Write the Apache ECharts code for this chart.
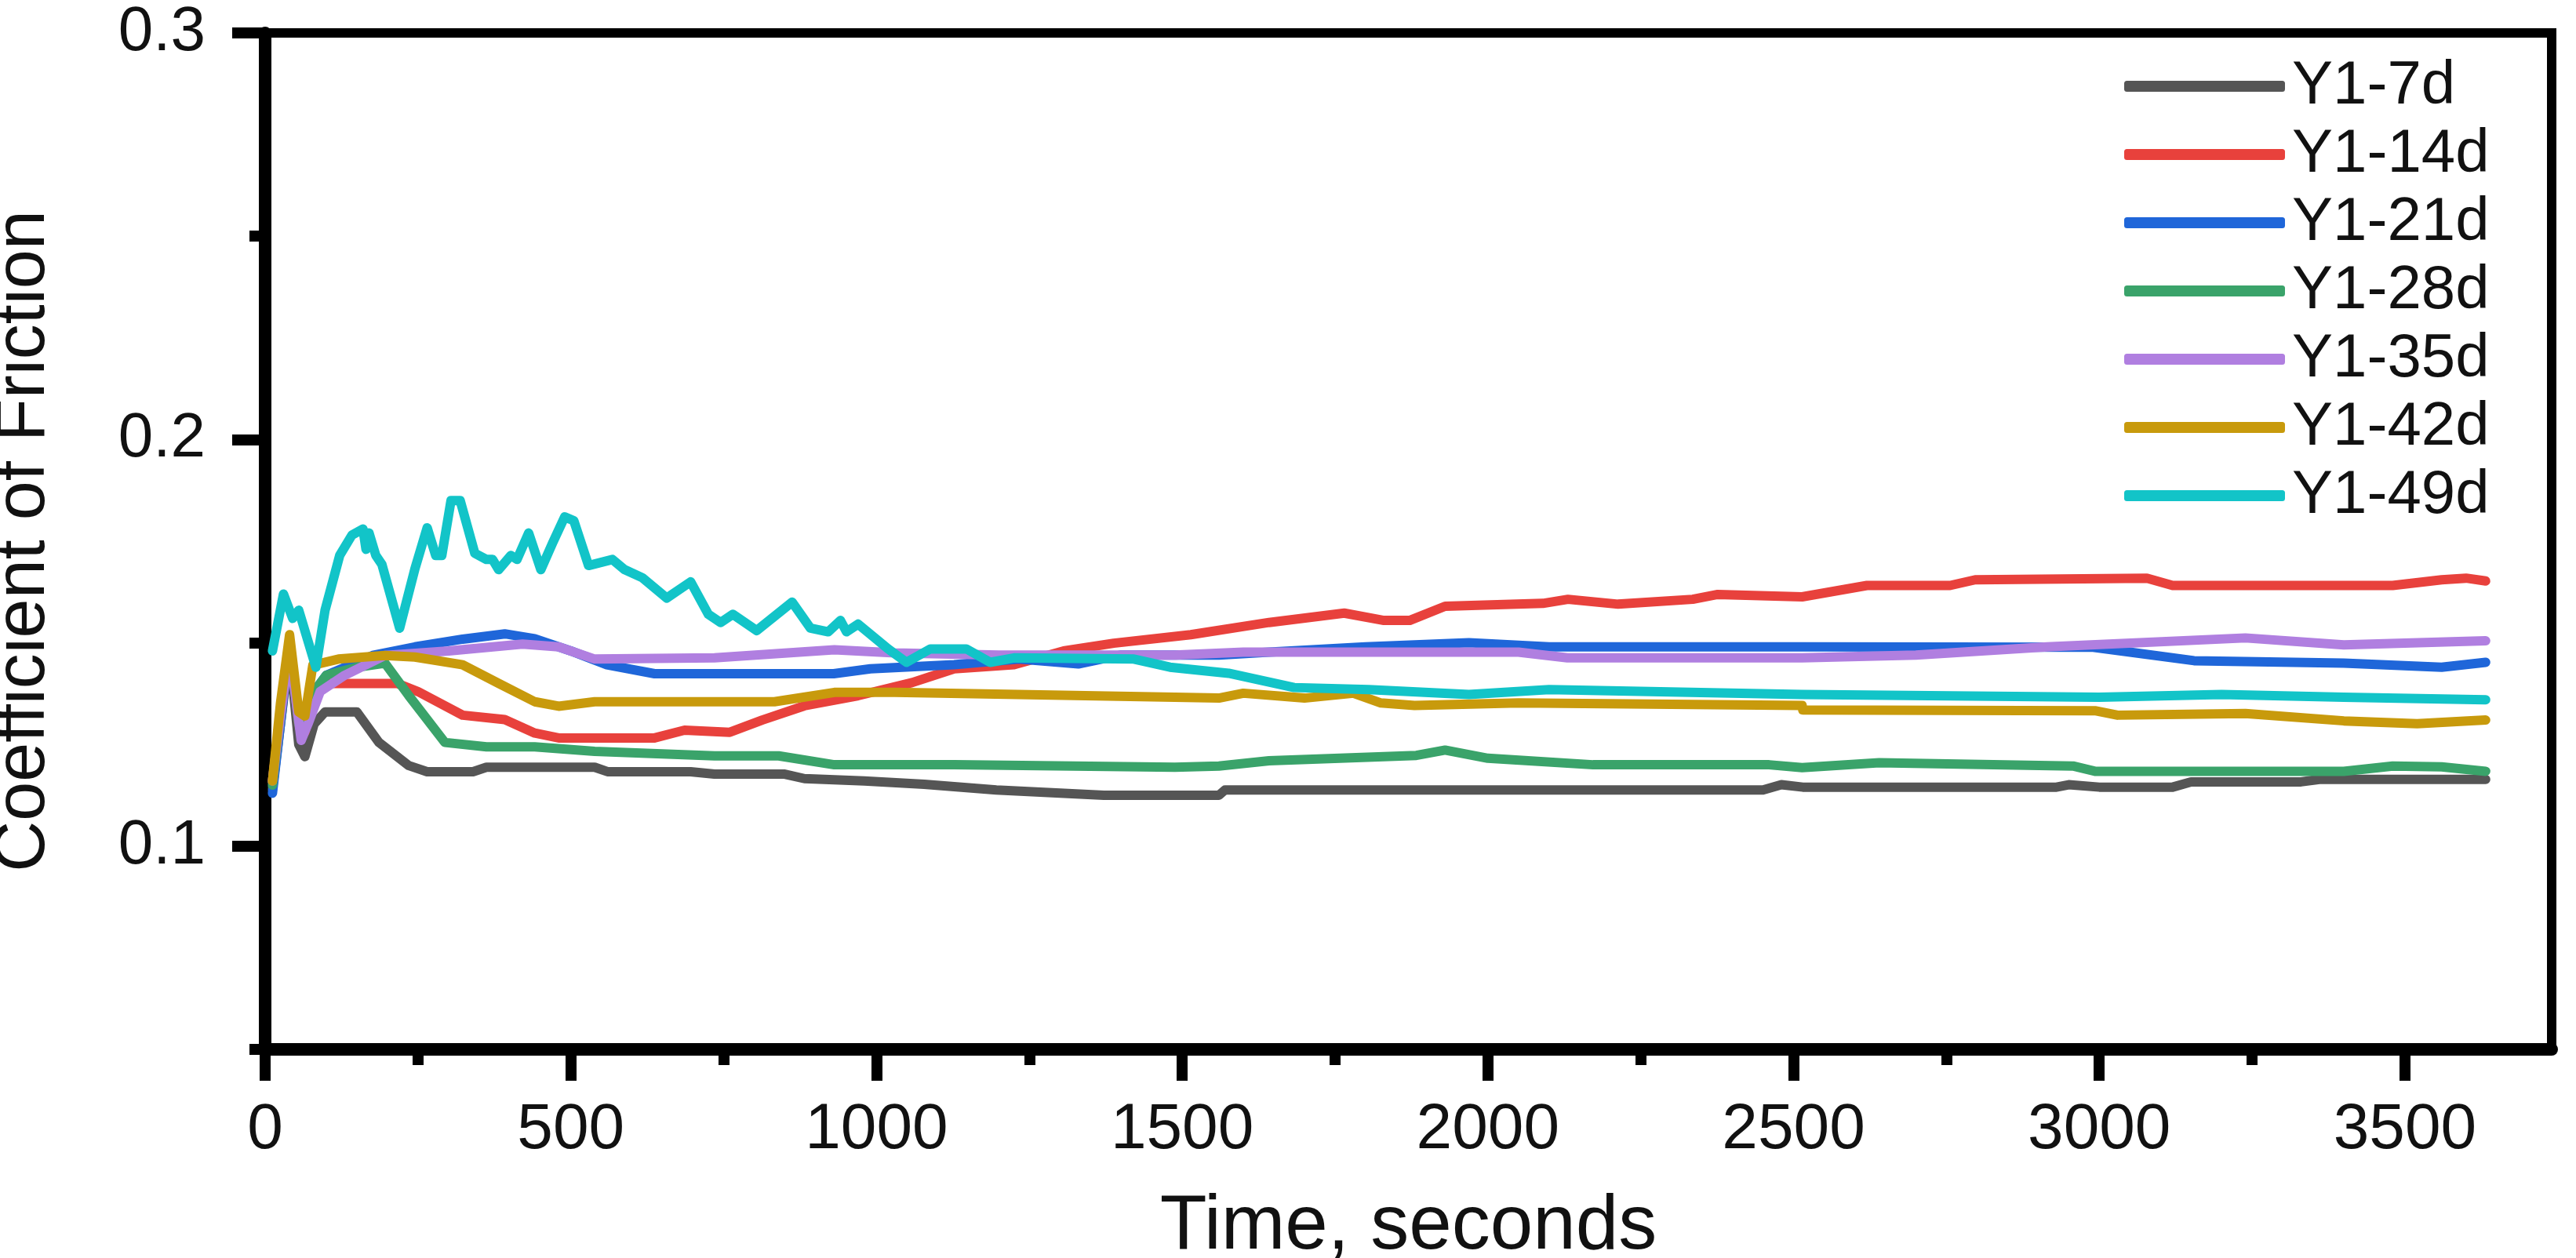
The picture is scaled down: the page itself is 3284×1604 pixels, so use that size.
<!DOCTYPE html>
<html><head><meta charset="utf-8">
<script src="https://cdn.jsdelivr.net/npm/echarts@6/dist/echarts.min.js"></script>
<style>html,body{margin:0;padding:0;background:#fff}#c{width:3284px;height:1604px}</style>
</head><body><div id="c"></div>
<script>
const seriesNames = ['Y1-7d','Y1-14d','Y1-21d','Y1-28d','Y1-35d','Y1-42d','Y1-49d'];
const xMajorTicks = [0,500,1000,1500,2000,2500,3000,3500];
const xMinorTicks = [250,750,1250,1750,2250,2750,3250];
const yMajorTicks = [0.1,0.2,0.3];
const yMinorTicks = [0.05,0.15,0.25];

const y7 = [[12,0.114],[25,0.13],[40,0.148],[55,0.125],[65,0.122],[80,0.13],[98,0.133],[150,0.133],[186,0.1255],[235,0.1198],[265,0.1183],[340,0.1183],[362,0.1194],[539,0.1194],[560,0.1183],[696,0.1183],[735,0.1177],[850,0.1177],[882,0.1166],[980,0.116],[1078,0.1152],[1196,0.1138],[1372,0.1125],[1560,0.1125],[1570,0.1138],[2450,0.1138],[2480,0.1151],[2515,0.1145],[2930,0.1145],[2950,0.1151],[3000,0.1145],[3120,0.1145],[3150,0.1158],[3330,0.1158],[3360,0.1164],[3632,0.1164]];
const y14 = [[12,0.116],[25,0.132],[40,0.15],[55,0.13],[65,0.128],[80,0.137],[100,0.14],[216,0.14],[250,0.138],[323,0.1322],[392,0.1311],[441,0.1278],[480,0.1266],[637,0.1266],[686,0.1285],[760,0.128],[813,0.131],[882,0.1345],[970,0.137],[1058,0.1402],[1127,0.1436],[1225,0.1446],[1306,0.148],[1388,0.1499],[1514,0.152],[1642,0.155],[1765,0.1573],[1830,0.1555],[1872,0.1555],[1930,0.159],[2090,0.1597],[2131,0.1607],[2213,0.1595],[2335,0.1607],[2376,0.1619],[2514,0.1613],[2620,0.1641],[2756,0.1641],[2797,0.1655],[3078,0.1659],[3120,0.1641],[3239,0.1641],[3480,0.1641],[3560,0.1655],[3600,0.1659],[3632,0.1652]];
const y21 = [[12,0.113],[25,0.13],[40,0.15],[55,0.132],[65,0.13],[80,0.138],[100,0.142],[176,0.1469],[245,0.149],[323,0.1509],[392,0.1522],[441,0.151],[500,0.148],[559,0.1446],[637,0.1424],[930,0.1424],[990,0.1436],[1127,0.1446],[1233,0.146],[1330,0.1448],[1400,0.147],[1560,0.147],[1642,0.1477],[1800,0.149],[1969,0.150],[2100,0.149],[2300,0.149],[2514,0.149],[2990,0.1489],[3155,0.1456],[3400,0.145],[3560,0.144],[3632,0.1452]];
const y28 = [[12,0.115],[25,0.132],[40,0.15],[55,0.13],[65,0.13],[80,0.138],[100,0.142],[150,0.144],[196,0.145],[235,0.137],[294,0.1255],[362,0.1244],[441,0.1244],[539,0.1233],[735,0.1222],[840,0.1222],[931,0.120],[1127,0.120],[1488,0.1194],[1560,0.1197],[1642,0.121],[1883,0.1223],[1930,0.1236],[2000,0.1216],[2172,0.12],[2460,0.12],[2514,0.1193],[2640,0.1205],[2957,0.1197],[2993,0.1184],[3400,0.1184],[3480,0.1197],[3560,0.1195],[3632,0.1184]];
const y35 = [[12,0.116],[25,0.132],[40,0.148],[59,0.126],[70,0.13],[90,0.138],[130,0.142],[196,0.1469],[300,0.148],[421,0.1497],[480,0.149],[539,0.146],[735,0.1463],[931,0.1483],[1030,0.1475],[1200,0.147],[1488,0.147],[1600,0.1477],[2050,0.1477],[2130,0.1463],[2514,0.1463],[2700,0.147],[2915,0.149],[3239,0.1512],[3400,0.1495],[3632,0.1505]];
const y42 = [[12,0.116],[25,0.135],[40,0.152],[55,0.133],[65,0.132],[78,0.1445],[120,0.146],[196,0.1469],[245,0.1465],[323,0.1446],[382,0.140],[441,0.1355],[480,0.1344],[539,0.1355],[833,0.1355],[931,0.1378],[1030,0.1378],[1488,0.1366],[1560,0.1364],[1600,0.1376],[1700,0.1364],[1780,0.1376],[1825,0.1352],[1880,0.1346],[2050,0.1352],[2514,0.1346],[2515,0.1335],[2993,0.1333],[3030,0.1322],[3239,0.1326],[3400,0.1308],[3520,0.1301],[3632,0.131]];
const y49 = [[12,0.148],[30,0.162],[45,0.156],[55,0.158],[83,0.144],[98,0.158],[122,0.1715],[142,0.1765],[160,0.178],[165,0.173],[170,0.177],[181,0.1715],[191,0.1693],[220,0.1536],[245,0.1682],[265,0.1783],[279,0.1715],[289,0.1715],[304,0.185],[319,0.185],[343,0.172],[362,0.1705],[372,0.1705],[382,0.168],[402,0.1715],[412,0.1705],[431,0.177],[451,0.168],[470,0.1745],[490,0.181],[505,0.18],[529,0.169],[568,0.1705],[588,0.168],[617,0.166],[657,0.161],[696,0.165],[725,0.157],[745,0.155],[765,0.157],[804,0.153],[862,0.16],[892,0.1536],[921,0.1527],[941,0.1555],[951,0.1527],[970,0.1546],[1019,0.1485],[1049,0.1452],[1088,0.1485],[1147,0.1485],[1186,0.1452],[1225,0.1463],[1421,0.146],[1480,0.144],[1576,0.1425],[1683,0.139],[1805,0.1385],[1969,0.1373],[2100,0.1385],[2514,0.1373],[3000,0.1366],[3200,0.1373],[3400,0.1366],[3632,0.136]];

const colors = ['#555555','#e8413c','#1f66d9','#3aa36a','#b07fe0','#c89a0c','#12c4c8'];
const datas = [y7,y14,y21,y28,y35,y42,y49];
const F = 'Liberation Sans, Arial, sans-serif';

const chart = echarts.init(document.getElementById('c'));
chart.setOption({
  animation:false,
  backgroundColor:'#fff',
  color: colors,
  grid:{left:338,top:42,right:31,bottom:266,show:true,borderColor:'#000',borderWidth:12,backgroundColor:'transparent',outerBoundsMode:'none',containLabel:false},
  legend:{show:true,orient:'vertical',left:2703,top:66,itemWidth:205,itemHeight:14,itemGap:9,icon:'roundRect',
    textStyle:{fontFamily:F,fontSize:78,color:'#111',padding:[0,0,0,4]},data:seriesNames},
  xAxis:[{type:'value',min:0,max:3740,position:'bottom',
    name:'Time, seconds',nameLocation:'middle',nameGap:178,nameTextStyle:{fontFamily:F,fontSize:98,color:'#111'},
    axisLine:{show:true,onZero:false,lineStyle:{color:'#000',width:16}},
    axisTick:{show:true,customValues:xMajorTicks,length:40,lineStyle:{width:14,color:'#000'}},
    axisLabel:{customValues:xMajorTicks,fontFamily:F,fontSize:82,color:'#111',margin:62,formatter:v=>String(v)},
    splitLine:{show:false}},
   {type:'value',min:0,max:3740,position:'bottom',gridIndex:0,
    axisLine:{show:false},axisTick:{show:true,customValues:xMinorTicks,length:20,lineStyle:{width:14,color:'#000'}},
    axisLabel:{show:false},splitLine:{show:false}}],
  yAxis:[{type:'value',min:0.05,max:0.3,position:'left',
    name:'Coefficient of Friction',nameLocation:'middle',nameGap:262,nameTextStyle:{fontFamily:F,fontSize:90,color:'#111'},
    axisLine:{show:true,onZero:false,lineStyle:{color:'#000',width:16}},
    axisTick:{show:true,customValues:yMajorTicks,length:42,lineStyle:{width:14,color:'#000'}},
    axisLabel:{customValues:yMajorTicks,fontFamily:F,fontSize:80,color:'#111',margin:76,formatter:v=>v.toFixed(1)},
    splitLine:{show:false}},
   {type:'value',min:0.05,max:0.3,position:'left',
    axisLine:{show:false},axisTick:{show:true,customValues:yMinorTicks,length:20,lineStyle:{width:14,color:'#000'}},
    axisLabel:{show:false},splitLine:{show:false}}],
  series: seriesNames.map((n,i)=>({name:n,type:'line',data:datas[i],symbol:'none',xAxisIndex:0,yAxisIndex:0,
    lineStyle:{width:12,color:colors[i],join:'round',cap:'round'},itemStyle:{color:colors[i]},z:2+i}))
});
</script></body></html>
